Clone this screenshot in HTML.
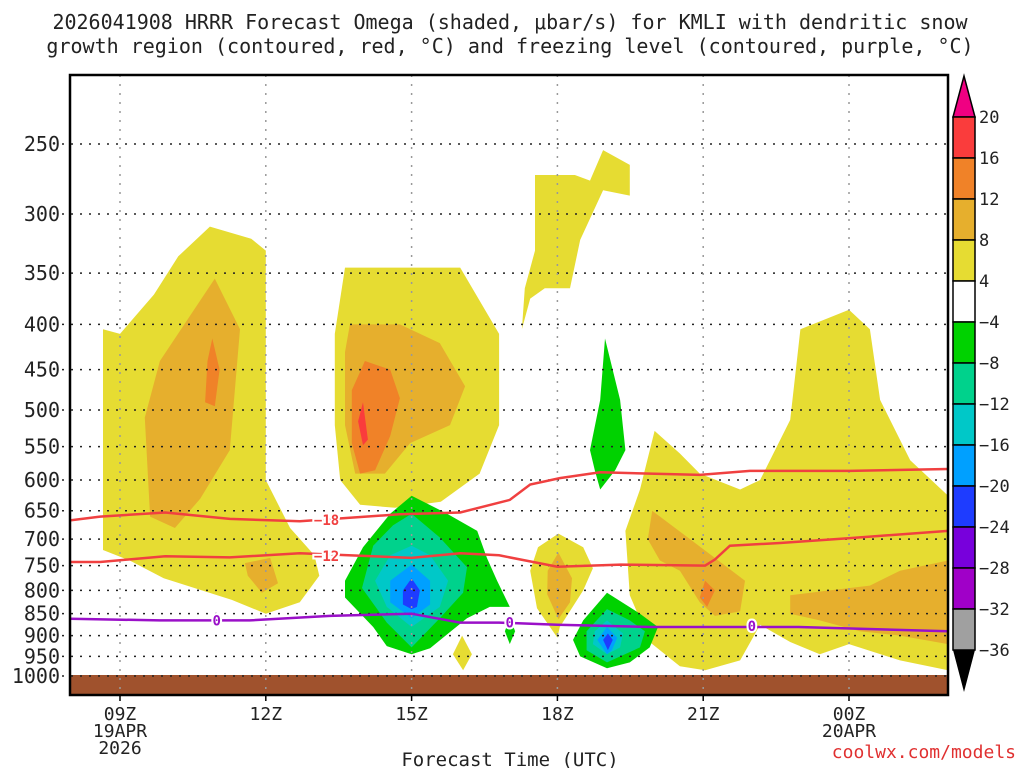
<!DOCTYPE html>
<html><head><meta charset="utf-8"><style>
body{margin:0;background:#fff}
svg{display:block;font-family:"DejaVu Sans Mono","Liberation Mono",monospace}
</style></head><body>
<svg id="chart" width="1024" height="768" viewBox="0 0 1024 768" xmlns="http://www.w3.org/2000/svg">
<rect width="1024" height="768" fill="#fff"/>
<text x="510" y="29" font-size="20" text-anchor="middle" fill="#222">2026041908 HRRR Forecast Omega (shaded, μbar/s) for KMLI with dendritic snow</text>
<text x="510" y="53" font-size="20" text-anchor="middle" fill="#222">growth region (contoured, red, °C) and freezing level (contoured, purple, °C)</text>
<g id="shades"></g><g id="grid"></g><g id="lines"></g><g id="axes"></g><g id="cbar"></g>
<text x="510" y="766" font-size="19" text-anchor="middle" fill="#222">Forecast Time (UTC)</text>
<text x="1016" y="758" font-size="18" fill="#e03030" text-anchor="end">coolwx.com/models</text>
</svg>
<script>
const pressureTicks=[250,300,350,400,450,500,550,600,650,700,750,800,850,900,950,1000];
const timeTicks=[0,3,6,9,12,15];
const timeLabels=["09Z","12Z","15Z","18Z","21Z","00Z"];
const dateLabels={0:["19APR","2026"],15:["20APR"]};
const cbarLevels=[20,16,12,8,4,-4,-8,-12,-16,-20,-24,-28,-32,-36];
const cbarColors=["#fa3c3c","#f08228","#e6af2d","#e6dc32","#ffffff","#00d200","#00d28c","#00c8c8","#00a0ff","#1e3cff","#7800dc","#a000c8","#a0a0a0"];
// shaded omega regions: [hour since 09Z, hPa]
const yellowA=[[-0.35,405],[-0.35,720],[0.2,740],[0.9,775],[2.3,820],[3,850],[3.7,825],[4.1,770],[4,730],[3.5,680],[3,600],[3,330],[2.7,320],[1.85,310],[1.2,335],[0.7,370],[0,410]];
const goldA=[[1.95,355],[2.47,405],[2.26,555],[1.65,630],[1.13,680],[0.62,660],[0.51,510],[0.82,440]];
const orangeA=[[1.9,415],[2.05,450],[1.95,495],[1.75,490],[1.8,440]];
const goldA2=[[2.57,745],[3.09,735],[3.25,785],[2.92,805],[2.63,770]];
const yellowB=[[4.63,345],[7,345],[7.8,410],[7.8,520],[7.4,590],[6.6,635],[5.66,645],[4.94,640],[4.53,600],[4.42,520],[4.42,410]];
const goldB=[[4.73,400],[5.76,400],[6.58,420],[7.1,470],[6.79,520],[5.97,545],[5.45,590],[4.84,590],[4.63,520],[4.63,430]];
const orangeB=[[5.04,440],[5.56,450],[5.76,485],[5.56,535],[5.25,585],[4.94,590],[4.77,545],[4.77,475]];
const redB=[[5.0,490],[5.1,540],[5.0,548],[4.9,515]];
const yellowC=[[8.54,271],[9.36,271],[9.67,275],[9.94,254],[10.49,264],[10.49,286],[9.94,282],[9.47,321],[9.26,364],[8.74,364],[8.44,374],[8.27,405],[8.33,364],[8.54,330]];
const greenD=[[9.98,415],[10.29,487],[10.4,555],[10.19,585],[9.88,615],[9.77,585],[9.67,555],[9.88,487]];
const greenE=[[6.0,625],[6.73,655],[7.35,685],[7.55,735],[7.76,780],[8.02,835],[7.61,835],[7.14,860],[6.38,930],[6.0,945],[5.49,925],[5.21,880],[4.63,815],[4.63,780],[5.0,715],[5.56,655]];
const tealE=[[6.0,655],[6.58,697],[7.14,753],[7.06,805],[6.58,860],[6.0,928],[5.49,870],[4.98,795],[5.21,712],[5.62,675]];
const cyanE=[[6.0,712],[6.38,730],[6.75,780],[6.58,835],[6.0,880],[5.49,835],[5.25,780],[5.56,730]];
const blueE=[[6.0,748],[6.38,780],[6.38,830],[6.0,860],[5.56,825],[5.56,780]];
const navyE=[[6.0,775],[6.17,800],[6.11,835],[6.0,840],[5.82,830],[5.82,800]];
const greenE2=[[8.02,858],[8.13,890],[8.02,920],[7.92,890]];
const yellowE2=[[7.04,900],[7.24,945],[7.06,985],[6.85,945]];
const yellowF=[[9.02,690],[9.53,715],[9.73,755],[9.53,800],[9.05,880],[9.0,905],[8.58,838],[8.44,760],[8.6,715]];
const goldF=[[9.02,725],[9.3,775],[9.26,825],[9.02,862],[8.79,808],[8.8,760]];
const greenG=[[10.02,805],[10.7,850],[11.07,880],[10.9,928],[10.49,965],[10.02,980],[9.47,950],[9.32,910],[9.53,865]];
const tealG=[[10.02,840],[10.49,865],[10.8,890],[10.7,928],[10.02,965],[9.6,935],[9.6,890]];
const cyanG=[[10.02,865],[10.35,895],[10.29,928],[10.02,945],[9.73,920],[9.77,890]];
const blueG=[[10.02,880],[10.23,905],[10.12,935],[10.02,945],[9.82,910]];
const navyG=[[10.04,895],[10.14,910],[10.04,935],[9.94,910]];
const yellowH=[[11.0,528],[10.7,615],[10.4,685],[10.49,810],[10.9,915],[11.52,975],[12.04,985],[12.76,960],[13.17,875],[13.79,915],[14.4,945],[15.0,920],[16.05,960],[17.04,985],[17.04,625],[16.26,570],[15.64,487],[15.43,405],[15.0,385],[14.0,405],[13.79,513],[13.17,600],[12.76,615],[11.93,590],[11.52,560]];
const goldH=[[10.95,650],[11.73,700],[12.45,750],[12.86,780],[12.76,845],[12.24,855],[11.93,825],[11.52,760],[11.11,740],[10.86,700]];
const orangeH=[[12.04,780],[12.24,800],[12.08,835],[11.93,815]];
const goldH2=[[13.79,810],[14.6,800],[15.43,790],[16.05,760],[17.04,740],[17.04,920],[16.05,900],[15.22,890],[14.4,865],[13.79,850]];
// contour lines
const dgzTopHours=[-1.65,-0.41,0.93,2.26,3.7,5.76,7,8.02,8.44,9.05,9.88,11.93,12.96,15.02,17.04];
const dgzTopP=[673,660,653,664,668,656,653,632,607,597,588,592,586,586,583];
const dgzBotHours=[-1.65,-0.41,0.93,2.26,3.7,6,7,7.8,9.0,10.3,12.04,12.24,12.55,13.58,15.02,17.04];
const dgzBotP=[743,743,732,734,726,735,726,730,752,748,750,738,712,707,698,685];
const frzHours=[-1.65,0.82,2.67,4.32,6,7,7.8,9,10.9,11.93,13.96,17.04];
const frzP=[860,865,865,855,850,870,870,875,880,880,880,890];

const NS="http://www.w3.org/2000/svg";
const X=h=>120+h*48.6, Y=p=>144+383.8*Math.log(p/250);
const L=70,R=948,T=75,B=695;
function mk(tag,attrs,parent){const e=document.createElementNS(NS,tag);for(const k in attrs)e.setAttribute(k,attrs[k]);parent.appendChild(e);return e;}
const shades=document.getElementById('shades');
const clip=mk('clipPath',{id:'pc'},document.getElementById('chart'));mk('rect',{x:L,y:T,width:R-L,height:B-T},clip);
shades.setAttribute('clip-path','url(#pc)');
const regions=[[yellowA,0],[goldA,1],[orangeA,2],[goldA2,1],[yellowB,0],[goldB,1],[orangeB,2],[redB,3],[yellowC,0],[greenD,4],[greenE,4],[tealE,5],[cyanE,6],[blueE,7],[navyE,8],[greenE2,4],[yellowE2,0],[yellowF,0],[goldF,1],[yellowH,0],[goldH,1],[orangeH,2],[goldH2,1],[greenG,4],[tealG,5],[cyanG,6],[blueG,7],[navyG,8]];
const fills=["#e6dc32","#e6af2d","#f08228","#fa3c3c","#00d200","#00d28c","#00c8c8","#00a0ff","#1e3cff"];
regions.forEach(([pts,c])=>{
  const e=mk('polygon',{points:pts.map(q=>X(q[0]).toFixed(1)+','+Y(q[1]).toFixed(1)).join(' '),fill:fills[c]},shades);
  
  
});
const ground=mk('rect',{x:L,y:675,width:R-L,height:B-675,fill:"#a0522d"},shades);


const grid=document.getElementById('grid');
pressureTicks.forEach(p=>{
  const e=mk('line',{x1:L-8,x2:R,y1:Y(p),y2:Y(p),stroke:"#222","stroke-width":1.5,"stroke-dasharray":"2 7"},grid);
  
  
});
timeTicks.forEach(h=>{
  const e=mk('line',{x1:X(h),x2:X(h),y1:T,y2:B,stroke:"#999","stroke-width":1.5,"stroke-dasharray":"2 7"},grid);
  
  
});
const lines=document.getElementById('lines');
lines.setAttribute('clip-path','url(#pc)');
function drawLine(hs,ps,color,name){
  const e=mk('polyline',{points:hs.map((h,i)=>X(h).toFixed(1)+','+Y(ps[i]).toFixed(1)).join(' '),fill:"none",stroke:color,"stroke-width":2.5},lines);
  
  
}
drawLine(dgzTopHours,dgzTopP,"#f04040","dgz-minus18-contour");
drawLine(dgzBotHours,dgzBotP,"#f04040","dgz-minus12-contour");
drawLine(frzHours,frzP,"#9a10c8","freezing-level-contour");
function lbl(txt,h,p,color,name){
  const t=mk('text',{x:X(h),y:Y(p)+5,"font-size":14,"font-weight":"bold",fill:color,"text-anchor":"middle",stroke:"#fff","stroke-width":4,"paint-order":"stroke"},lines);
  t.textContent=txt;
  
  
}
lbl("−18",4.25,666,"#f04040","contour-label-18");
lbl("−12",4.25,731,"#f04040","contour-label-12");
lbl("0",1.99,865,"#9a10c8","contour-label-0");
lbl("0",8.02,870,"#9a10c8","contour-label-0");
lbl("0",13,878,"#9a10c8","contour-label-0");
const axes=document.getElementById('axes');
const fr=mk('rect',{x:L,y:T,width:R-L,height:B-T,fill:"none",stroke:"#000","stroke-width":2.5},axes);


pressureTicks.forEach(p=>{
  const t=mk('text',{x:L-10,y:Y(p)+7,"font-size":20,"text-anchor":"end",fill:"#222"},axes);
  t.textContent=p;
  
  
});
timeTicks.forEach((h,i)=>{
  mk('line',{x1:X(h),x2:X(h),y1:B,y2:B+6,stroke:"#000","stroke-width":1.5},axes);
  const t=mk('text',{x:X(h),y:720,"font-size":18,"text-anchor":"middle",fill:"#222"},axes);
  t.textContent=timeLabels[i];
  
  
  (dateLabels[h]||[]).forEach((d,j)=>{
    const u=mk('text',{x:X(h),y:737+j*17,"font-size":18,"text-anchor":"middle",fill:"#222"},axes);
    u.textContent=d;
    
    
  });
});
const cb=document.getElementById('cbar');
const cx=953,cw=22;
const cyv=i=>117+i*41.0;
const tri=mk('polygon',{points:`${cx},117 ${cx+cw},117 ${cx+cw/2},76`,fill:"#f00082",stroke:"#000","stroke-width":1.5},cb);


cbarColors.forEach((c,i)=>{
  const r=mk('rect',{x:cx,y:cyv(i),width:cw,height:41,fill:c,stroke:"#000","stroke-width":1.5},cb);
  
  
});
const tri2=mk('polygon',{points:`${cx},${cyv(13)} ${cx+cw},${cyv(13)} ${cx+cw/2},692`,fill:"#000"},cb);


cbarLevels.forEach((v,i)=>{
  const t=mk('text',{x:979,y:cyv(i)+6,"font-size":17,fill:"#222"},cb);
  t.textContent=v<0?"−"+(-v):v;
  
  
});
</script>
</body></html>
